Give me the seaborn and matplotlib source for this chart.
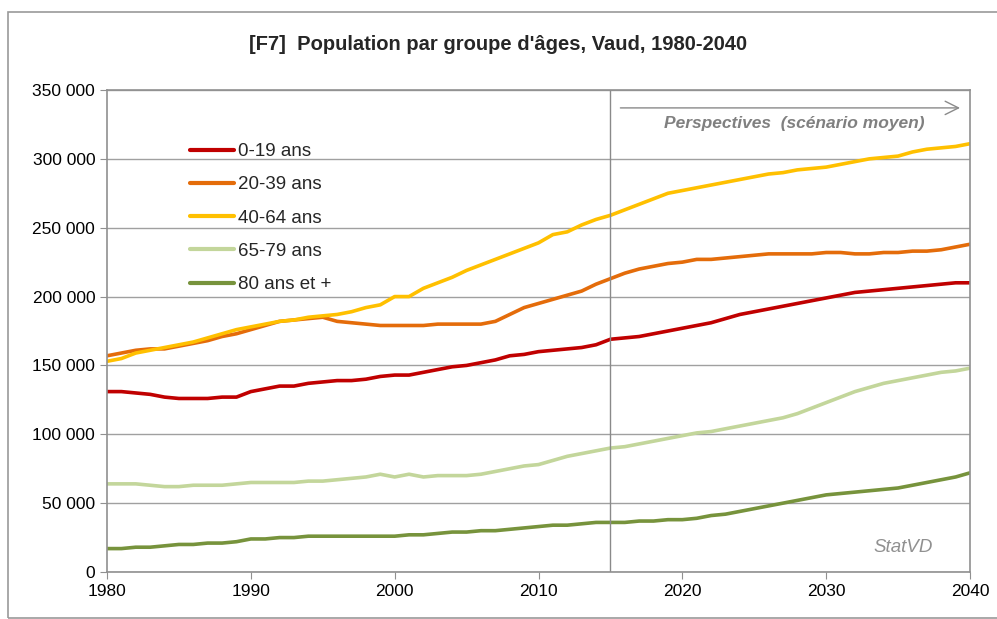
import pandas as pd
import matplotlib.pyplot as plt
import seaborn as sns
from matplotlib.ticker import FuncFormatter
from matplotlib.patches import Rectangle

# Years and population by age group (in thousands)
years = list(range(1980, 2041))

age_0_19 = [131, 131, 130, 129, 127, 126, 126, 126, 127, 127,
            131, 133, 135, 135, 137, 138, 139, 139, 140, 142,
            143, 143, 145, 147, 149, 150, 152, 154, 157, 158,
            160, 161, 162, 163, 165, 169, 170, 171, 173, 175,
            177, 179, 181, 184, 187, 189, 191, 193, 195, 197,
            199, 201, 203, 204, 205, 206, 207, 208, 209, 210, 210]

age_20_39 = [157, 159, 161, 162, 162, 164, 166, 168, 171, 173,
             176, 179, 182, 183, 184, 185, 182, 181, 180, 179,
             179, 179, 179, 180, 180, 180, 180, 182, 187, 192,
             195, 198, 201, 204, 209, 213, 217, 220, 222, 224,
             225, 227, 227, 228, 229, 230, 231, 231, 231, 231,
             232, 232, 231, 231, 232, 232, 233, 233, 234, 236, 238]

age_40_64 = [153, 155, 159, 161, 163, 165, 167, 170, 173, 176,
             178, 180, 182, 183, 185, 186, 187, 189, 192, 194,
             200, 200, 206, 210, 214, 219, 223, 227, 231, 235,
             239, 245, 247, 252, 256, 259, 263, 267, 271, 275,
             277, 279, 281, 283, 285, 287, 289, 290, 292, 293,
             294, 296, 298, 300, 301, 302, 305, 307, 308, 309, 311]

age_65_79 = [64, 64, 64, 63, 62, 62, 63, 63, 63, 64,
             65, 65, 65, 65, 66, 66, 67, 68, 69, 71,
             69, 71, 69, 70, 70, 70, 71, 73, 75, 77,
             78, 81, 84, 86, 88, 90, 91, 93, 95, 97,
             99, 101, 102, 104, 106, 108, 110, 112, 115, 119,
             123, 127, 131, 134, 137, 139, 141, 143, 145, 146, 148]

age_80_plus = [17, 17, 18, 18, 19, 20, 20, 21, 21, 22,
               24, 24, 25, 25, 26, 26, 26, 26, 26, 26,
               26, 27, 27, 28, 29, 29, 30, 30, 31, 32,
               33, 34, 34, 35, 36, 36, 36, 37, 37, 38,
               38, 39, 41, 42, 44, 46, 48, 50, 52, 54,
               56, 57, 58, 59, 60, 61, 63, 65, 67, 69, 72]

groups = ['0-19 ans', '20-39 ans', '40-64 ans', '65-79 ans', '80 ans et +']
colors = ['#C00000', '#E46C0A', '#FFC000', '#C3D69B', '#77933C']

rows = []
for name, vals in zip(groups, [age_0_19, age_20_39, age_40_64, age_65_79, age_80_plus]):
    for y, v in zip(years, vals):
        rows.append({'year': y, 'pop': v * 1000, 'group': name})
df = pd.DataFrame(rows)

sns.set_style('white')
plt.rcParams['font.family'] = ['Liberation Sans', 'DejaVu Sans']

fig = plt.figure(figsize=(9.97, 6.19), dpi=100)
ax = fig.add_axes([107 / 997, 1 - 572 / 619, 863 / 997, 482 / 619])

# outer frame of the chart
fig.patches.append(Rectangle((8 / 997, 0.002), 0.996, 1 - 12 / 619 - 0.002,
                             transform=fig.transFigure, fill=False,
                             edgecolor='#9a9a9a', lw=1.2))

sns.lineplot(data=df, x='year', y='pop', hue='group', palette=colors,
             hue_order=groups, linewidth=2.6, ax=ax)

ax.set_xlim(1980, 2040)
ax.set_ylim(0, 350000)
ax.set_xticks(range(1980, 2041, 10))
ax.set_yticks(range(0, 350001, 50000))
ax.yaxis.set_major_formatter(FuncFormatter(lambda v, p: f'{int(v):,}'.replace(',', ' ')))
ax.grid(axis='y', color='#a0a0a0', lw=1)
ax.set_axisbelow(True)
for s in ax.spines.values():
    s.set_color('#909090')
    s.set_linewidth(1.2)
ax.tick_params(axis='both', labelsize=12.5, colors='black', length=5,
               direction='out', color='#909090', left=True, bottom=True)
ax.set_xlabel('')
ax.set_ylabel('')

# projection marker
ax.axvline(2015, color='#8a8a8a', lw=1)
ax.annotate('', xy=(2039.5, 337000), xytext=(2015.5, 337000),
            arrowprops=dict(arrowstyle='->', color='#8a8a8a', lw=1,
                            mutation_scale=24))
ax.text(2027.8, 326000, 'Perspectives  (scénario moyen)', ha='center', va='center',
        fontsize=12.5, style='italic', fontweight='bold', color='#808080')
ax.text(2037.4, 18000, 'StatVD', ha='right', va='center', fontsize=13.5,
        style='italic', color='#909090')

leg = ax.legend(loc='upper left', bbox_to_anchor=(0.0765, 0.925), frameon=False,
                fontsize=13.5, handlelength=2.35, handletextpad=0.2,
                labelspacing=0.86)
for line in leg.get_lines():
    line.set_linewidth(3)

fig.text(0.5, 1 - 45 / 619, "[F7]  Population par groupe d'âges, Vaud, 1980-2040",
         ha='center', va='center', fontsize=14.5, fontweight='bold')

fig.savefig('out.png', dpi=100)
